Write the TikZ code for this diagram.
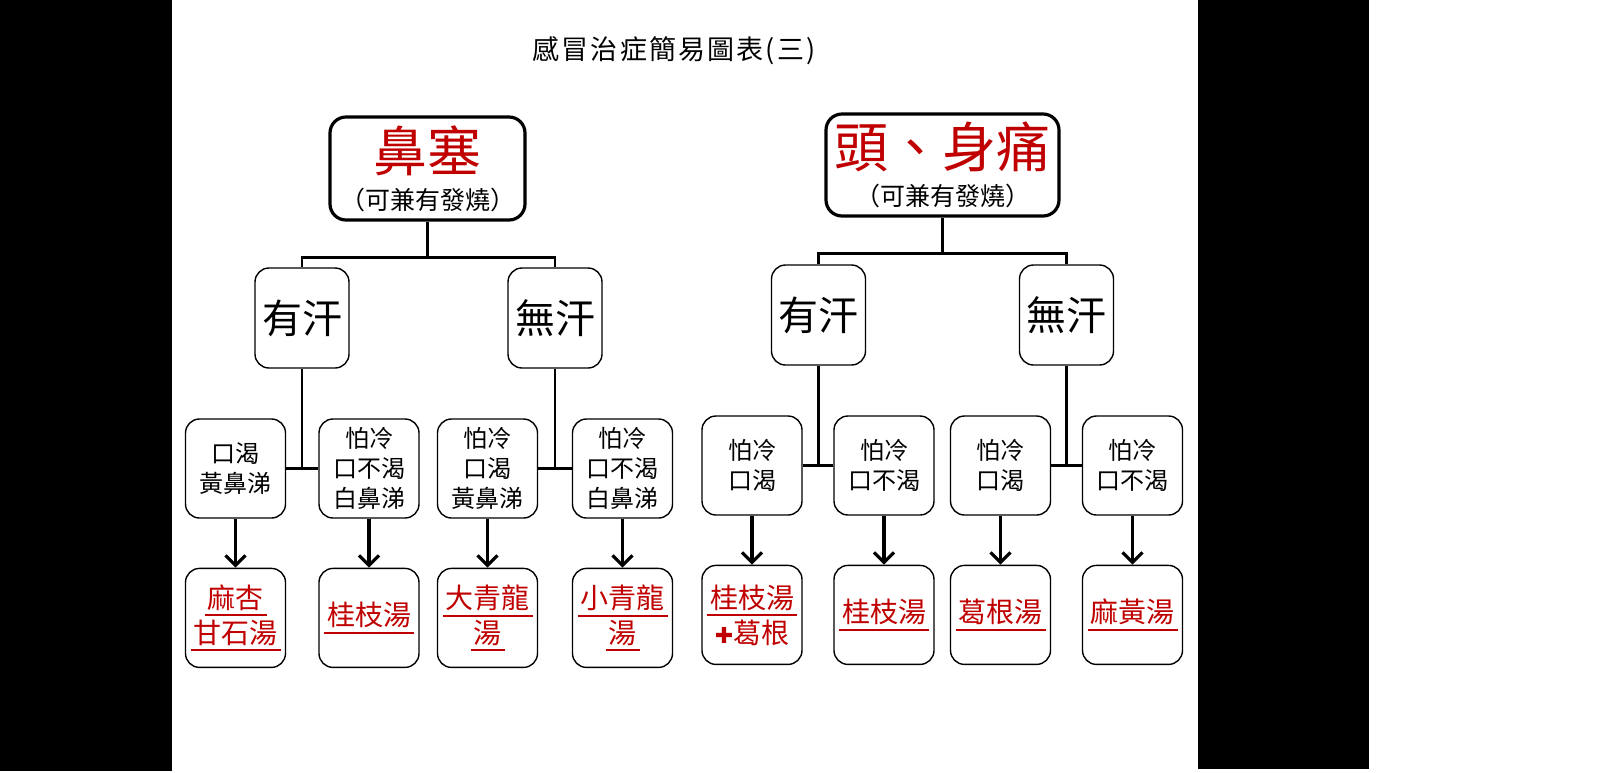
\documentclass[tikz,border=0pt]{standalone}
\usepackage{fontspec}
\setmainfont{Noto Sans CJK TC}
\newfontfamily\crossfont{DejaVu Sans}
\usetikzlibrary{positioning,arrows.meta}
\definecolor{medred}{HTML}{C00000}
\newcommand{\medul}[1]{\vtop{\hbox{\kern1.5pt#1\kern1.5pt}\kern1.8pt\hrule height 1pt}}

\begin{document}
\begin{tikzpicture}[x=0.5pt,y=-0.5pt,
  root/.style={draw, line width=1.6pt, rounded corners=8pt, align=center, inner sep=0pt, font=\fontsize{12.5pt}{19pt}\selectfont},
  sweat/.style={draw, line width=0.7pt, rounded corners=7pt, minimum width=47pt, minimum height=50pt, inner sep=0pt, font=\fontsize{20pt}{24pt}\selectfont},
  sym/.style={draw, line width=0.7pt, rounded corners=7pt, minimum width=50pt, minimum height=49.5pt, inner sep=0pt, align=center, font=\fontsize{12pt}{15pt}\selectfont},
  med/.style={sym, text=medred, font=\fontsize{14pt}{17.5pt}\selectfont},
  link/.style={line width=1.4pt},
  cure/.style={line width=1.6pt, -{Straight Barb[length=5pt,width=10pt]}},
  node distance=24.5pt]

\fill[white] (0,0) rectangle (1600,772);
\fill[black] (0,0) rectangle (172,771);
\fill[black] (1198,0) rectangle (1369,769);
\useasboundingbox (0,0) rectangle (1600,772);

\node (title) at (674,51) [font=\fontsize{13.5pt}{16pt}\selectfont\addfontfeature{LetterSpace=8}] {感冒治症簡易圖表(三)};

\node[root, minimum width=97.5pt, minimum height=51.5pt] (r1) at (427.5,168.5) {{\fontsize{27pt}{27pt}\selectfont\color{medred}鼻塞}\\（可兼有發燒）};
\node[root, minimum width=116.5pt, minimum height=51pt] (r2) at (942.5,165) {{\fontsize{27pt}{27pt}\selectfont\color{medred}頭、身痛}\\（可兼有發燒）};

\node[sweat] (h1) at (302,318) {有汗};
\node[sweat] (h2) at (555,318) {無汗};
\node[sweat] (h3) at (818.5,315) {有汗};
\node[sweat] (h4) at (1066.5,315) {無汗};

\node[sym] (s1) at (235.5,468.5) {口渴\\黃鼻涕};
\node[sym] (s2) at (369,468.5) {怕冷\\口不渴\\白鼻涕};
\node[sym] (s3) at (487.5,468.5) {怕冷\\口渴\\黃鼻涕};
\node[sym] (s4) at (622.5,468.5) {怕冷\\口不渴\\白鼻涕};
\node[sym] (s5) at (752,465.5) {怕冷\\口渴};
\node[sym] (s6) at (884,465.5) {怕冷\\口不渴};
\node[sym] (s7) at (1000.5,465.5) {怕冷\\口渴};
\node[sym] (s8) at (1132.5,465.5) {怕冷\\口不渴};

\node[med] (m1) [below=of s1] {\medul{麻杏}\\\medul{甘石湯}};
\node[med] (m2) [below=of s2] {\medul{桂枝湯}};
\node[med] (m3) [below=of s3] {\medul{大青龍}\\\medul{湯}};
\node[med] (m4) [below=of s4] {\medul{小青龍}\\\medul{湯}};
\node[med] (m5) [below=of s5] {\medul{桂枝湯}\\{\crossfont\fontsize{11pt}{11pt}\selectfont ✚}葛根};
\node[med] (m6) [below=of s6] {\medul{桂枝湯}};
\node[med] (m7) [below=of s7] {\medul{葛根湯}};
\node[med] (m8) [below=of s8] {\medul{麻黃湯}};

\draw[link] (r1.south) -- ++(0,36) -| (h1.north);
\draw[link] (r1.south) ++(0,36) -| (h2.north);
\draw[link] (r2.south) -- ++(0,36) -| (h3.north);
\draw[link] (r2.south) ++(0,36) -| (h4.north);

\draw[link] (h1.south) -- (h1.south |- s1.east);
\draw[link] (s1.east) -- (s2.west);
\draw[link] (h2.south) -- (h2.south |- s3.east);
\draw[link] (s3.east) -- (s4.west);
\draw[link] (h3.south) -- (h3.south |- s5.east);
\draw[link] (s5.east) -- (s6.west);
\draw[link] (h4.south) -- (h4.south |- s7.east);
\draw[link] (s7.east) -- (s8.west);

\draw[cure] (s1.south) -- (m1.north);
\draw[cure] (s2.south) -- (m2.north);
\draw[cure] (s3.south) -- (m3.north);
\draw[cure] (s4.south) -- (m4.north);
\draw[cure] (s5.south) -- (m5.north);
\draw[cure] (s6.south) -- (m6.north);
\draw[cure] (s7.south) -- (m7.north);
\draw[cure] (s8.south) -- (m8.north);

\end{tikzpicture}
\end{document}
